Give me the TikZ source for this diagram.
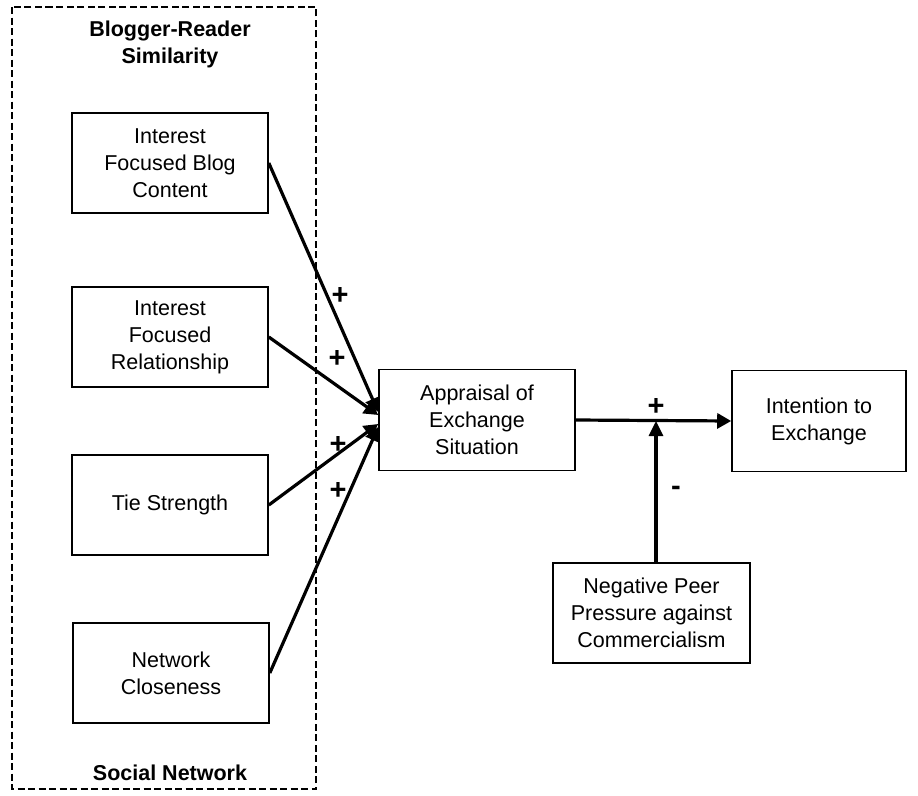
\documentclass[tikz,border=0pt]{standalone}
\usepackage{fontspec}
\setmainfont{Liberation Sans}
\usetikzlibrary{arrows.meta}
\begin{document}
\begin{tikzpicture}[x=1pt,y=-1pt,
  every node/.style={font=\fontsize{21.5}{27}\selectfont},
  box/.style={draw, line width=1.6pt, minimum width=196pt, minimum height=100pt, align=center, inner sep=0pt},
  arr/.style={line width=3.2pt, -{Triangle[length=14pt,width=15pt]}},
  sign/.style={font=\fontsize{29}{30}\selectfont\bfseries, inner sep=0pt},
  grouplabel/.style={font=\fontsize{21.5}{27}\selectfont\bfseries, align=center, inner sep=0pt},
  groupbox/.style={draw, line width=2.2pt, dash pattern=on 7pt off 3.5pt}]
\useasboundingbox (0,0) rectangle (918,795);
% group box
\draw[groupbox] (12,7) rectangle (316,789);
\node[grouplabel] (gtop) at (170,44) {Blogger-Reader\\Similarity};
\node[grouplabel] (gbot) at (170,773) {Social Network};
% signs
\node[sign] (p1) at (340,296) {+};
\node[sign] (p2) at (337,359) {+};
\node[sign] (p3) at (338,445) {+};
\node[sign] (p4) at (338,491) {+};
\node[sign] (p5) at (656,407) {+};
\node[sign] (n1) at (676,491) {-};
% boxes
\node[box] (b1) at (170,163) {Interest\\Focused Blog\\Content};
\node[box] (b2) at (170,337) {Interest\\Focused\\Relationship};
\node[box] (b3) at (170,505) {Tie Strength};
\node[box] (b4) at (171,673) {Network\\Closeness};
\node[box, minimum height=101pt] (app) at (477,420) {Appraisal of\\Exchange\\Situation};
\node[box, minimum width=174pt, minimum height=101pt] (int) at (819,421) {Intention to\\Exchange};
\node[box, minimum width=197pt] (neg) at (651.5,613) {Negative Peer\\Pressure against\\Commercialism};
% connectors
\draw[arr] (b1.east) -- ([yshift=8pt]app.west);
\draw[arr] (b2.east) -- ([yshift=5pt]app.west);
\draw[arr] (b3.east) -- ([yshift=-4pt]app.west);
\draw[arr] (b4.east) -- ([yshift=-7pt]app.west);
\draw[arr] (app.east) -- (int.west);
\coordinate (m) at (656,421);
\draw[arr, -{Triangle[length=15pt,width=14pt]}] (neg.north -| m) -- (m);
\end{tikzpicture}
\end{document}
